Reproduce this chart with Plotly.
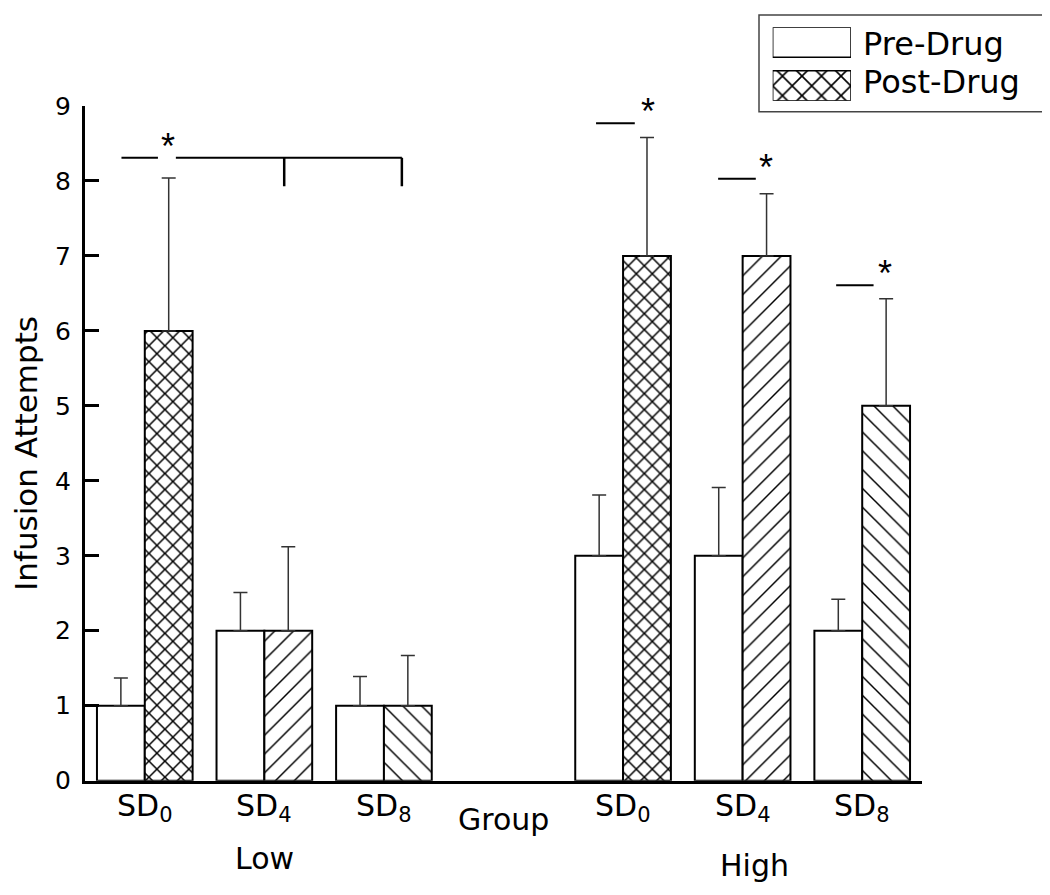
import plotly.graph_objects as go

# ---------------- data ----------------
groups = ["Low", "High"]
conditions = ["SD0", "SD4", "SD8"]
cond_labels = ["SD<sub>0</sub>", "SD<sub>4</sub>", "SD<sub>8</sub>"]
middle_label = "Group"

pre_values = [1, 2, 1, 3, 3, 2]
pre_err = [0.37, 0.51, 0.39, 0.81, 0.91, 0.42]
post_values = [6, 2, 1, 7, 7, 5]
post_err = [2.04, 1.12, 0.67, 1.58, 0.83, 1.43]
post_patterns = ["x", "/", "\\", "x", "/", "\\"]

series_names = ["Pre-Drug", "Post-Drug"]
y_title = "Infusion Attempts"
y_ticks = [0, 1, 2, 3, 4, 5, 6, 7, 8, 9]

# ---------------- layout helpers ----------------
# mapping from figure pixels to the photographed page pixels
OX = 8
SY, OY = 0.968, 22.0
W, H = 1042, 895
FONT = "DejaVu Sans, Liberation Sans, Arial, sans-serif"

# slot positions: Low SD0..SD8 -> 0..2, "Group" -> 3, High SD0..SD8 -> 4..6
slots = [0, 1, 2, 4, 5, 6]
bw = 0.4


def px_x(p):
    return (p - OX) / W


def px_y(p):
    return 1 - ((p - OY) / SY) / H


pattern_size = [11.3 if s == "x" else 13.3 for s in post_patterns]
pattern_sol = [0.25 if s == "x" else 0.11 for s in post_patterns]

fig = go.Figure()

fig.add_trace(go.Bar(
    x=slots, y=pre_values, width=bw, offset=-bw, name=series_names[0],
    marker=dict(color="white", line=dict(color="black", width=2)),
    error_y=dict(type="data", array=pre_err, arrayminus=[0] * len(pre_err),
                 symmetric=False, thickness=1.5, width=7, color="#333333"),
    showlegend=False,
))
fig.add_trace(go.Bar(
    x=slots, y=post_values, width=bw, offset=0, name=series_names[1],
    marker=dict(color="white", line=dict(color="black", width=2),
                pattern=dict(shape=post_patterns, fgcolor="black", bgcolor="white",
                             size=pattern_size, solidity=pattern_sol, fillmode="replace")),
    error_y=dict(type="data", array=post_err, arrayminus=[0] * len(post_err),
                 symmetric=False, thickness=1.5, width=7, color="#333333"),
    showlegend=False,
))

# legend swatches drawn as bars on their own small axes
fig.add_trace(go.Bar(
    x=[1, 1], y=[1, 0], orientation="h", width=0.691, base=0,
    marker=dict(color="white", line=dict(color="black", width=1.5),
                pattern=dict(shape=["", "x"], fgcolor="black", bgcolor="white",
                             size=13.8, solidity=0.22, fillmode="replace")),
    xaxis="x2", yaxis="y2", showlegend=False, cliponaxis=False, hoverinfo="skip",
))

x_dom = [px_x(85), px_x(922)]
y_dom = [px_y(781), px_y(106)]

fig.update_layout(
    width=W, height=H,
    margin=dict(l=0, r=0, t=0, b=0),
    paper_bgcolor="white", plot_bgcolor="white",
    font=dict(family=FONT, color="black"),
    barmode="overlay",
    xaxis=dict(domain=x_dom, range=[-0.5, 6.5], showline=True, linewidth=3,
               linecolor="black", showticklabels=False, ticks="", showgrid=False,
               zeroline=False, fixedrange=True),
    yaxis=dict(domain=y_dom, range=[0, 9], showline=True, linewidth=3,
               linecolor="black", ticks="inside", ticklen=14, tickwidth=2.5,
               tickcolor="black", tickvals=y_ticks, showgrid=False, zeroline=False,
               tickfont=dict(size=25, family=FONT), ticklabelstandoff=6, fixedrange=True),
    xaxis2=dict(domain=[px_x(772.7), px_x(851)], range=[0, 1], visible=False,
                anchor="y2", fixedrange=True),
    yaxis2=dict(domain=[px_y(100.7), px_y(27.3)], range=[-0.3455, 1.3455],
                visible=False, anchor="x2", fixedrange=True),
)

ann = []
# x category labels
for i, s in enumerate(slots):
    ann.append(dict(x=s, xref="x", y=px_y(808), yref="paper", text=cond_labels[i % 3],
                    showarrow=False, xanchor="center", yanchor="middle",
                    font=dict(size=30, family=FONT)))
ann.append(dict(x=3, xref="x", y=px_y(820), yref="paper", text=middle_label,
                showarrow=False, xanchor="center", yanchor="middle",
                font=dict(size=30, family=FONT)))
ann.append(dict(x=1, xref="x", y=px_y(859), yref="paper", text=groups[0],
                showarrow=False, xanchor="center", yanchor="middle",
                font=dict(size=30, family=FONT)))
ann.append(dict(x=5.1, xref="x", y=px_y(866), yref="paper", text=groups[1],
                showarrow=False, xanchor="center", yanchor="middle",
                font=dict(size=30, family=FONT)))
# y title
ann.append(dict(x=px_x(26), xref="paper", y=px_y(454), yref="paper", text=y_title,
                textangle=-90, showarrow=False, xanchor="center", yanchor="middle",
                font=dict(size=31, family=FONT)))
# legend text
ann.append(dict(x=px_x(861), xref="paper", y=px_y(44), yref="paper", text=series_names[0],
                showarrow=False, xanchor="left", yanchor="middle",
                font=dict(size=32, family=FONT)))
ann.append(dict(x=px_x(861), xref="paper", y=px_y(82.5), yref="paper", text=series_names[1],
                showarrow=False, xanchor="left", yanchor="middle",
                font=dict(size=32, family=FONT)))

# significance markers: (segments as [x0,x1,y]), verticals, star position
sig_segments = [(-0.195, 0.11, 8.31), (0.26, 2.15, 8.31),
                (3.774, 4.098, 8.77), (4.795, 5.11, 8.03), (5.782, 6.095, 6.61)]
sig_verticals = [(1.166, 8.31, 7.93), (2.15, 8.31, 7.93)]
sig_stars = [(0.19, 8.31), (4.207, 8.77), (5.195, 8.03), (6.192, 6.61)]

shapes = []
for x0, x1, yv in sig_segments:
    shapes.append(dict(type="line", xref="x", yref="y", x0=x0, x1=x1, y0=yv, y1=yv,
                       line=dict(color="black", width=2)))
for xv, y0, y1 in sig_verticals:
    shapes.append(dict(type="line", xref="x", yref="y", x0=xv, x1=xv, y0=y0, y1=y1,
                       line=dict(color="black", width=2.5)))
for xs, ys in sig_stars:
    ann.append(dict(x=xs, xref="x", y=ys, yref="y", text="*", showarrow=False,
                    xanchor="center", yanchor="bottom", yshift=-11,
                    font=dict(size=36, family="Liberation Sans, Arial, sans-serif")))

# legend box
shapes.append(dict(type="rect", xref="paper", yref="paper",
                   x0=px_x(759), x1=px_x(1043), y0=px_y(111.7), y1=px_y(15),
                   line=dict(color="#444444", width=1.5)))

fig.update_layout(annotations=ann, shapes=shapes)

fig.write_html("out.html")
